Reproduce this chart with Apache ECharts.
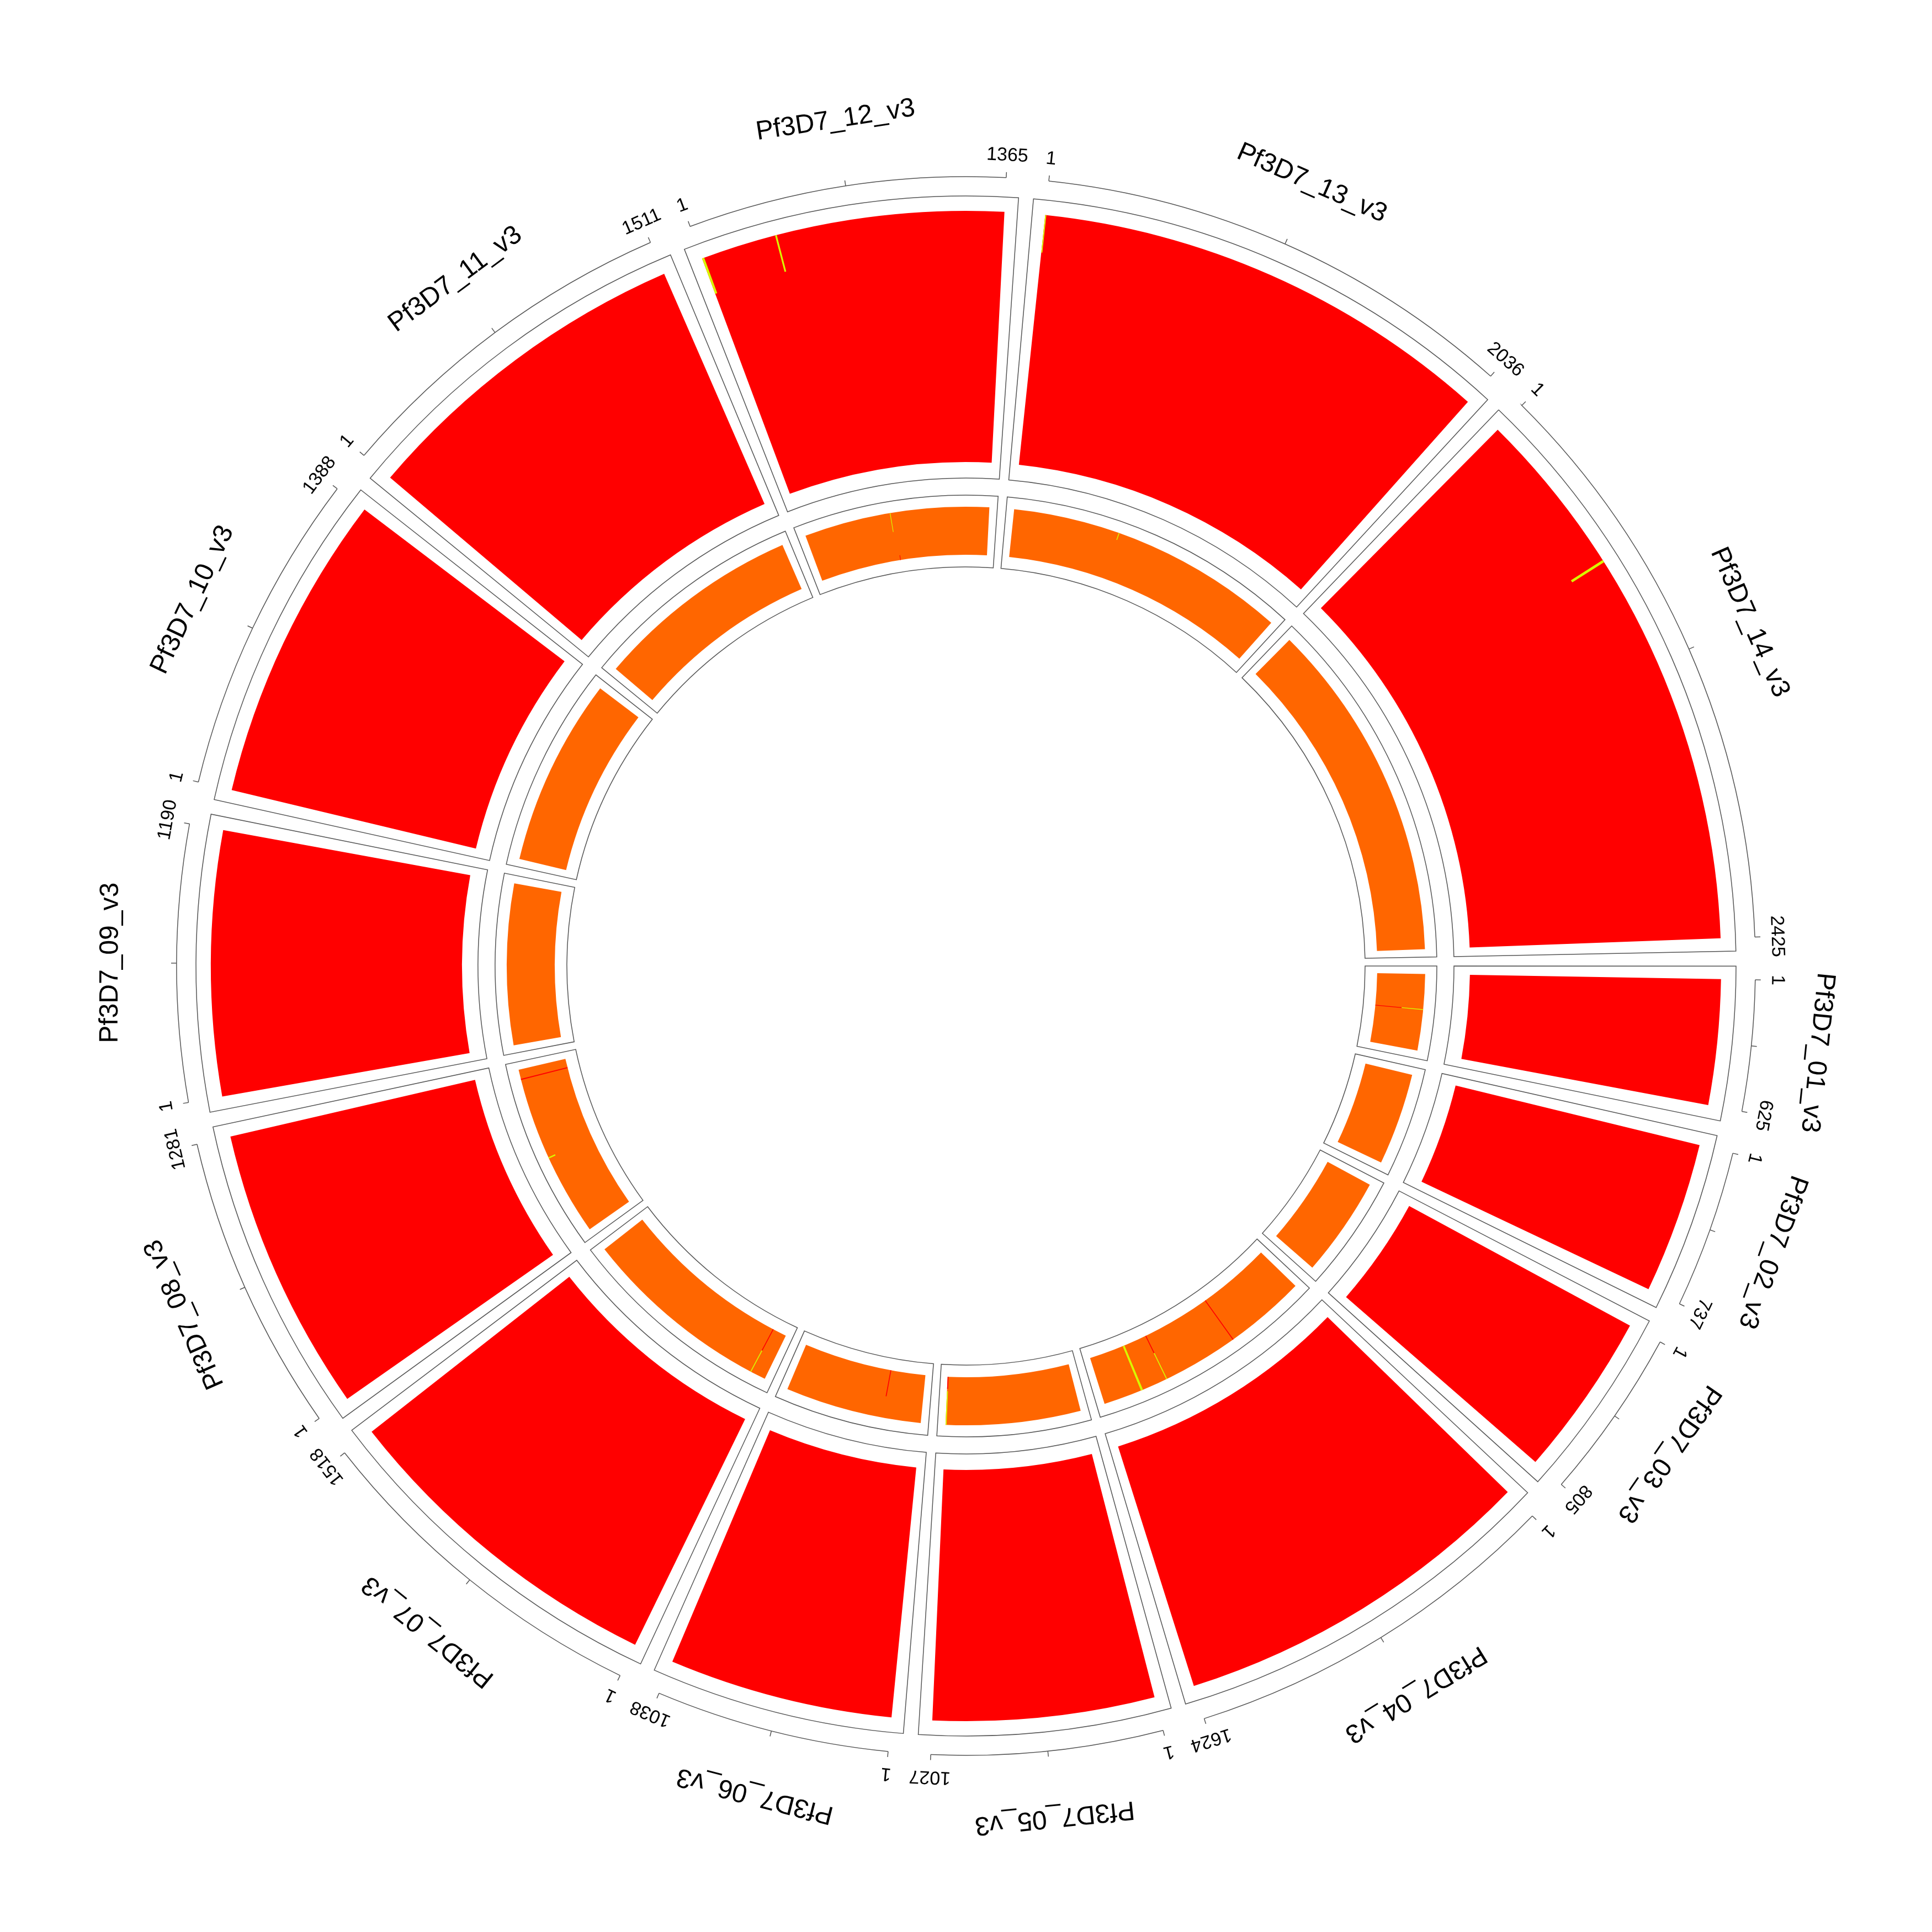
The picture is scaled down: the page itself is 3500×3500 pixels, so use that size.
<!DOCTYPE html>
<html>
<head>
<meta charset="utf-8">
<title>Pf3D7 circos heatmap</title>
<script src="https://cdn.jsdelivr.net/npm/echarts@6/dist/echarts.min.js"></script>
<style>
  html, body { margin: 0; padding: 0; background: #ffffff; }
  #chart { width: 3500px; height: 3500px; }
</style>
</head>
<body>
<div id="chart"></div>
<script>
// chromosomes, plotted sizes and the end labels of each ideogram
const chromNames = ['Pf3D7_01_v3', 'Pf3D7_02_v3', 'Pf3D7_03_v3', 'Pf3D7_04_v3', 'Pf3D7_05_v3',
    'Pf3D7_06_v3', 'Pf3D7_07_v3', 'Pf3D7_08_v3', 'Pf3D7_09_v3', 'Pf3D7_10_v3',
    'Pf3D7_11_v3', 'Pf3D7_12_v3', 'Pf3D7_13_v3', 'Pf3D7_14_v3'];
const chromSizes = [561, 678, 736, 1650, 993, 1005, 1513, 1279, 1186, 1384, 1525, 1364, 2079, 2517];
const startLabels = ['1', '1', '1', '1', '1', '1', '1', '1', '1', '1', '1', '1', '1', '1'];
const endLabels = ['625', '737', '805', '1624', '1027', '1038', '1518', '1281', '1190', '1388', '1511', '1365', '2036', '2425'];
const gapSize = 181;
// minor ticks as a fraction of each ideogram
const tickFractions = [0.5];

// heatmap levels: 1 = low (yellow), 2 = mid (orange), 3 = high (red)
const outerBase = [3, 3, 3, 3, 3, 3, 3, 3, 3, 3, 3, 3, 3, 3];
const innerBase = [2, 2, 2, 2, 2, 2, 2, 2, 2, 2, 2, 2, 2, 2];

// [chrom, position, width, rowFrom, rowTo, level]
const outerCells = [
    [11, 0, 10, 17, 20, 1],
    [11, 339, 8, 17, 20, 1],
    [12, 0, 5, 17, 20, 1],
    [13, 742, 12, 17, 20, 1]
];
const innerCells = [
    [0, 257, 6, 0, 11, 3],
    [0, 257, 6, 11, 20, 1],
    [3, 596, 7, 0, 20, 3],
    [3, 1159, 7, 0, 8, 3],
    [3, 1159, 7, 8, 20, 1],
    [3, 1352, 16, 0, 20, 1],
    [4, 985, 8, 0, 5, 3],
    [4, 985, 8, 6, 20, 1],
    [5, 280, 7, 0, 11, 3],
    [6, 111, 7, 0, 10, 3],
    [6, 111, 7, 10, 20, 1],
    [7, 1202, 8, 0, 20, 3],
    [7, 595, 10, 17, 20, 1],
    [11, 636, 5, 12, 20, 1],
    [11, 657, 5, 0, 2, 3],
    [12, 782, 6, 17, 20, 1]
];
const levelColors = ['#D8F800', '#FF6600', '#FF0000'];

document.addEventListener('DOMContentLoaded', function() {
    const chart = echarts.init(document.getElementById('chart'));

    const ROWS = 20;
    const tracks = [{ r0: 913, r1: 1368 }, { r0: 745, r1: 832 }];
    const boxes = [{ r0: 884, r1: 1395 }, { r0: 723, r1: 853 }];
    const boxPad = 58;          // about one degree either side
    const axisR = 1430;
    const tickLen = 10;
    const tickLabelR = 1470;
    const nameR = 1550;
    const lineColor = '#555555';
    const fontFamily = '"Liberation Sans", Arial, sans-serif';

    const offsets = [];
    let acc = 0;
    chromSizes.forEach(size => {
        offsets.push(acc);
        acc += size + gapSize;
    });
    const totalUnits = acc;

    function screenAngle(params, api, r, a) {
        const cs = params.coordSys;
        const p = api.coord([r, a]);
        return Math.atan2(p[1] - cs.cy, p[0] - cs.cx);
    }

    function pixelRadius(params, api, r, a) {
        const cs = params.coordSys;
        const p = api.coord([r, a]);
        return Math.hypot(p[0] - cs.cx, p[1] - cs.cy);
    }

    function sectorShape(params, api, r0, r1, a0, a1, style) {
        const cs = params.coordSys;
        const t0 = screenAngle(params, api, r1, a0);
        let t1 = screenAngle(params, api, r1, a1);
        if (t1 < t0) t1 += Math.PI * 2;
        return {
            type: 'sector',
            shape: {
                cx: cs.cx, cy: cs.cy,
                r0: pixelRadius(params, api, r0, a0),
                r: pixelRadius(params, api, r1, a0),
                startAngle: t0, endAngle: t1, clockwise: true
            },
            style: style
        };
    }

    function radialText(params, api, r, a, text, fontSize) {
        const p = api.coord([r, a]);
        const t = screenAngle(params, api, r, a);
        return {
            type: 'text',
            x: p[0], y: p[1],
            rotation: -(t + Math.PI / 2),
            style: {
                text: text,
                fill: '#000000',
                font: fontSize + 'px ' + fontFamily,
                align: 'center',
                verticalAlign: 'middle'
            }
        };
    }

    function tickLine(params, api, a) {
        const p0 = api.coord([axisR, a]);
        const p1 = api.coord([axisR + tickLen, a]);
        return {
            type: 'line',
            shape: { x1: p0[0], y1: p0[1], x2: p1[0], y2: p1[1] },
            style: { stroke: lineColor, lineWidth: 1.5 }
        };
    }

    // frames, ideogram axis, ticks and labels
    function renderIdeogram(params, api) {
        const i = api.value(0);
        const a0 = offsets[i];
        const a1 = a0 + chromSizes[i];
        const cs = params.coordSys;
        const children = [];

        boxes.forEach(b => {
            children.push(sectorShape(params, api, b.r0, b.r1, a0 - boxPad, a1 + boxPad,
                { fill: '#ffffff', stroke: lineColor, lineWidth: 1.5 }));
        });

        let t0 = screenAngle(params, api, axisR, a0);
        let t1 = screenAngle(params, api, axisR, a1);
        if (t1 < t0) t1 += Math.PI * 2;
        children.push({
            type: 'arc',
            shape: { cx: cs.cx, cy: cs.cy, r: pixelRadius(params, api, axisR, a0), startAngle: t0, endAngle: t1, clockwise: true },
            style: { stroke: lineColor, lineWidth: 1.5, fill: null }
        });
        children.push(tickLine(params, api, a0));
        children.push(tickLine(params, api, a1));
        tickFractions.forEach(f => children.push(tickLine(params, api, a0 + chromSizes[i] * f)));

        children.push(radialText(params, api, tickLabelR, a0, startLabels[i], 34));
        children.push(radialText(params, api, tickLabelR, a1, endLabels[i], 34));
        children.push(radialText(params, api, nameR, (a0 + a1) / 2, chromNames[i], 48));

        return { type: 'group', children: children };
    }

    // heatmap cells: [track, chrom, position, width, rowFrom, rowTo, level]
    function renderCell(params, api) {
        const tr = tracks[api.value(0)];
        const a0 = offsets[api.value(1)] + api.value(2);
        const a1 = a0 + api.value(3);
        const r0 = tr.r0 + (tr.r1 - tr.r0) * api.value(4) / ROWS;
        const r1 = tr.r0 + (tr.r1 - tr.r0) * api.value(5) / ROWS;
        return sectorShape(params, api, r0, r1, a0, a1, { fill: api.visual('color') });
    }

    const heatData = [];
    chromSizes.forEach((size, i) => {
        heatData.push([0, i, 0, size, 0, ROWS, outerBase[i]]);
        heatData.push([1, i, 0, size, 0, ROWS, innerBase[i]]);
    });
    outerCells.forEach(c => heatData.push([0].concat(c)));
    innerCells.forEach(c => heatData.push([1].concat(c)));

    const option = {
        animation: false,
        backgroundColor: '#ffffff',
        polar: {
            center: ['50%', '50%'],
            radius: [0, 1600]
        },
        angleAxis: {
            type: 'value',
            min: 0,
            max: totalUnits,
            startAngle: 359,
            clockwise: true,
            show: false
        },
        radiusAxis: {
            type: 'value',
            min: 0,
            max: 1600,
            show: false
        },
        visualMap: {
            type: 'piecewise',
            show: false,
            dimension: 6,
            seriesIndex: 1,
            pieces: [
                { value: 1, color: levelColors[0] },
                { value: 2, color: levelColors[1] },
                { value: 3, color: levelColors[2] }
            ]
        },
        series: [{
            type: 'custom',
            name: 'ideogram',
            coordinateSystem: 'polar',
            z: 1,
            silent: true,
            renderItem: renderIdeogram,
            data: chromNames.map((n, i) => [i])
        }, {
            type: 'custom',
            name: 'heatmap',
            coordinateSystem: 'polar',
            z: 2,
            silent: true,
            renderItem: renderCell,
            data: heatData
        }]
    };

    chart.setOption(option);
});
</script>
</body>
</html>
